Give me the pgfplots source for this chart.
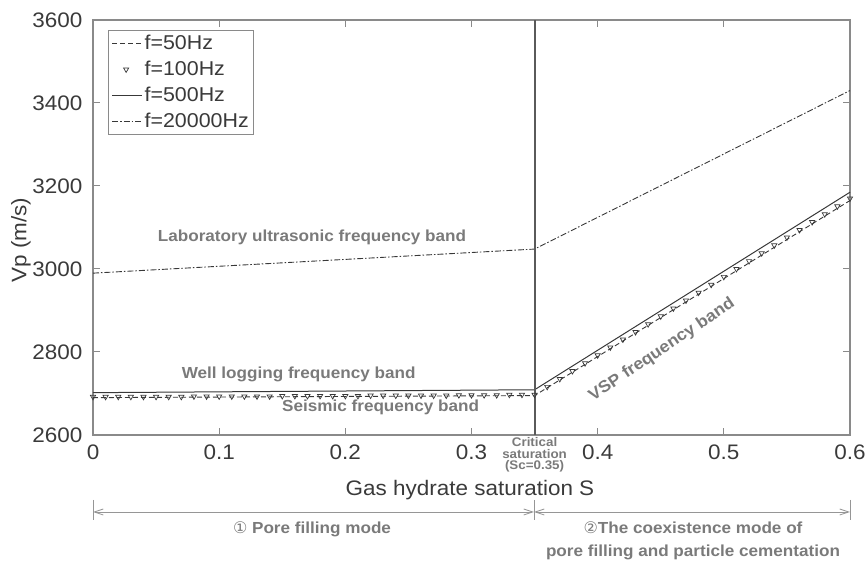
\documentclass[border=0pt]{standalone}
\usepackage{pgfplots}
\pgfplotsset{compat=1.18}
\usepackage{fontspec}
\setmainfont{Liberation Sans}[FakeStretch=1.07]
\newfontfamily\dejavu{DejaVu Sans}
\usetikzlibrary{arrows.meta}
\definecolor{axgray}{HTML}{8A8A8A}
\definecolor{txtgray}{HTML}{7A7A7A}
\definecolor{linegray}{HTML}{383838}
\definecolor{ticktext}{HTML}{3A3A3A}
\definecolor{vgray}{HTML}{5A5A5A}
\definecolor{arrgray}{HTML}{969696}
\pgfplotsset{
  lineleg/.style={legend image code/.code={\draw[##1] (0pt,0pt) -- (30pt,0pt);}},
  markleg/.style={legend image code/.code={\draw[##1] plot coordinates {(14pt,0pt)};}},
}
\begin{document}
\begin{tikzpicture}
\begin{axis}[
  scale only axis, width=757pt, height=415pt,
  xmin=0, xmax=0.6, ymin=2600, ymax=3600,
  xtick={0,0.1,0.2,0.3,0.4,0.5,0.6},
  xticklabels={0,0.1,0.2,0.3,0.4,0.5,0.6},
  ytick={2600,2800,3000,3200,3400,3600},
  yticklabels={2600,2800,3000,3200,3400,3600},
  tick align=inside, major tick length=7pt,
  axis line style={axgray, line width=1.2pt},
  every tick/.style={axgray, line width=1pt},
  tick label style={font=\fontsize{21}{25}\selectfont, text=ticktext},
  xticklabel style={yshift=-6pt},
  yticklabel style={xshift=-7pt},
  /pgf/number format/assume math mode=true,
  xlabel={Gas hydrate saturation S},
  ylabel={Vp (m/s)},
  label style={font=\fontsize{21}{25}\selectfont, text=ticktext},
  xlabel style={at={(rel axis cs:0.498,0)}, anchor=center, yshift=-55pt},
  ylabel style={at={([xshift=-72pt]rel axis cs:0,0.47)}, anchor=center},
  legend style={at={(rel axis cs:0.02,0.976)}, anchor=north west, draw=axgray, line width=1pt,
    font=\fontsize{20}{23}\selectfont, text=ticktext, inner sep=3pt, row sep=6pt},
  legend cell align=left,
  clip=false,
]
\addplot[linegray, line width=0.9pt, dash pattern=on 5pt off 3pt, lineleg]
  coordinates {(0,2690) (0.35,2695) (0.6,3165)};
\addlegendentry{f=50Hz}
\addplot[linegray, only marks, mark=triangle, mark size=3pt, mark options={rotate=180, line width=0.7pt}, markleg]
  coordinates {
  (0,2692) (0.01,2692) (0.02,2692) (0.03,2692) (0.04,2692) (0.05,2692) (0.06,2692) (0.07,2692)
  (0.08,2693) (0.09,2693) (0.10,2693) (0.11,2693) (0.12,2693) (0.13,2693) (0.14,2693)
  (0.15,2694) (0.16,2694) (0.17,2694) (0.18,2694) (0.19,2694) (0.20,2694) (0.21,2694)
  (0.22,2695) (0.23,2695) (0.24,2695) (0.25,2695) (0.26,2695) (0.27,2695) (0.28,2695)
  (0.29,2696) (0.30,2696) (0.31,2696) (0.32,2696) (0.33,2697) (0.34,2697) (0.35,2697)
  (0.36,2716) (0.37,2735) (0.38,2754) (0.39,2773) (0.40,2792) (0.41,2811) (0.42,2830)
  (0.43,2848) (0.44,2867) (0.45,2886) (0.46,2905) (0.47,2924) (0.48,2943) (0.49,2962)
  (0.50,2981) (0.51,3000) (0.52,3019) (0.53,3038) (0.54,3057) (0.55,3076) (0.56,3094)
  (0.57,3113) (0.58,3132) (0.59,3151) (0.60,3170)};
\addlegendentry{f=100Hz}
\addplot[linegray, line width=1pt, lineleg]
  coordinates {(0,2702) (0.35,2709) (0.6,3185)};
\addlegendentry{f=500Hz}
\addplot[linegray, line width=0.9pt, dash pattern=on 6pt off 2pt on 1.5pt off 2pt, lineleg]
  coordinates {(0,2990) (0.35,3048) (0.6,3430)};
\addlegendentry{f=20000Hz}
\addplot[vgray, line width=2pt, forget plot]
  coordinates {(0.35,2600) (0.35,3600)};

\node[font=\fontsize{16}{19}\selectfont\bfseries, text=txtgray] at (axis cs:0.1736,3077) {Laboratory ultrasonic frequency band};
\node[font=\fontsize{16}{19}\selectfont\bfseries, text=txtgray] at (axis cs:0.163,2745) {Well logging frequency band};
\node[font=\fontsize{16}{19}\selectfont\bfseries, text=txtgray] at (axis cs:0.228,2667) {Seismic frequency band};
\node[font=\fontsize{16.5}{19}\selectfont\bfseries, text=txtgray, rotate=34] at (axis cs:0.451,2805) {VSP frequency band};
\node[font=\fontsize{12.5}{11.5}\selectfont\bfseries, text=txtgray, anchor=north, align=center, inner sep=0pt] at (axis cs:0.35,2594) {Critical\\saturation\\(Sc=0.35)};
\end{axis}
\begin{scope}[draw=arrgray, line width=0.8pt]
\draw (0pt,-65pt) -- (0pt,-85pt);
\draw (441pt,-65pt) -- (441pt,-85pt);
\draw (757pt,-65pt) -- (757pt,-85pt);
\draw[{Straight Barb[length=9pt,width=6pt]}-{Straight Barb[length=9pt,width=6pt]}] (0pt,-77pt) -- (441pt,-77pt);
\draw[{Straight Barb[length=9pt,width=6pt]}-{Straight Barb[length=9pt,width=6pt]}] (441pt,-77pt) -- (757pt,-77pt);
\end{scope}
\node[font=\fontsize{16}{19}\selectfont\bfseries, text=txtgray] at (219pt,-94pt) {{\dejavu\mdseries ①} Pore filling mode};
\node[font=\fontsize{16}{23}\selectfont\bfseries, text=txtgray, align=center] at (600pt,-106pt) {{\dejavu\mdseries ②}The coexistence mode of\\pore filling and particle cementation};
\pgfresetboundingbox
\path (-93pt,-129pt) rectangle (775pt,435pt);
\end{tikzpicture}
\end{document}
